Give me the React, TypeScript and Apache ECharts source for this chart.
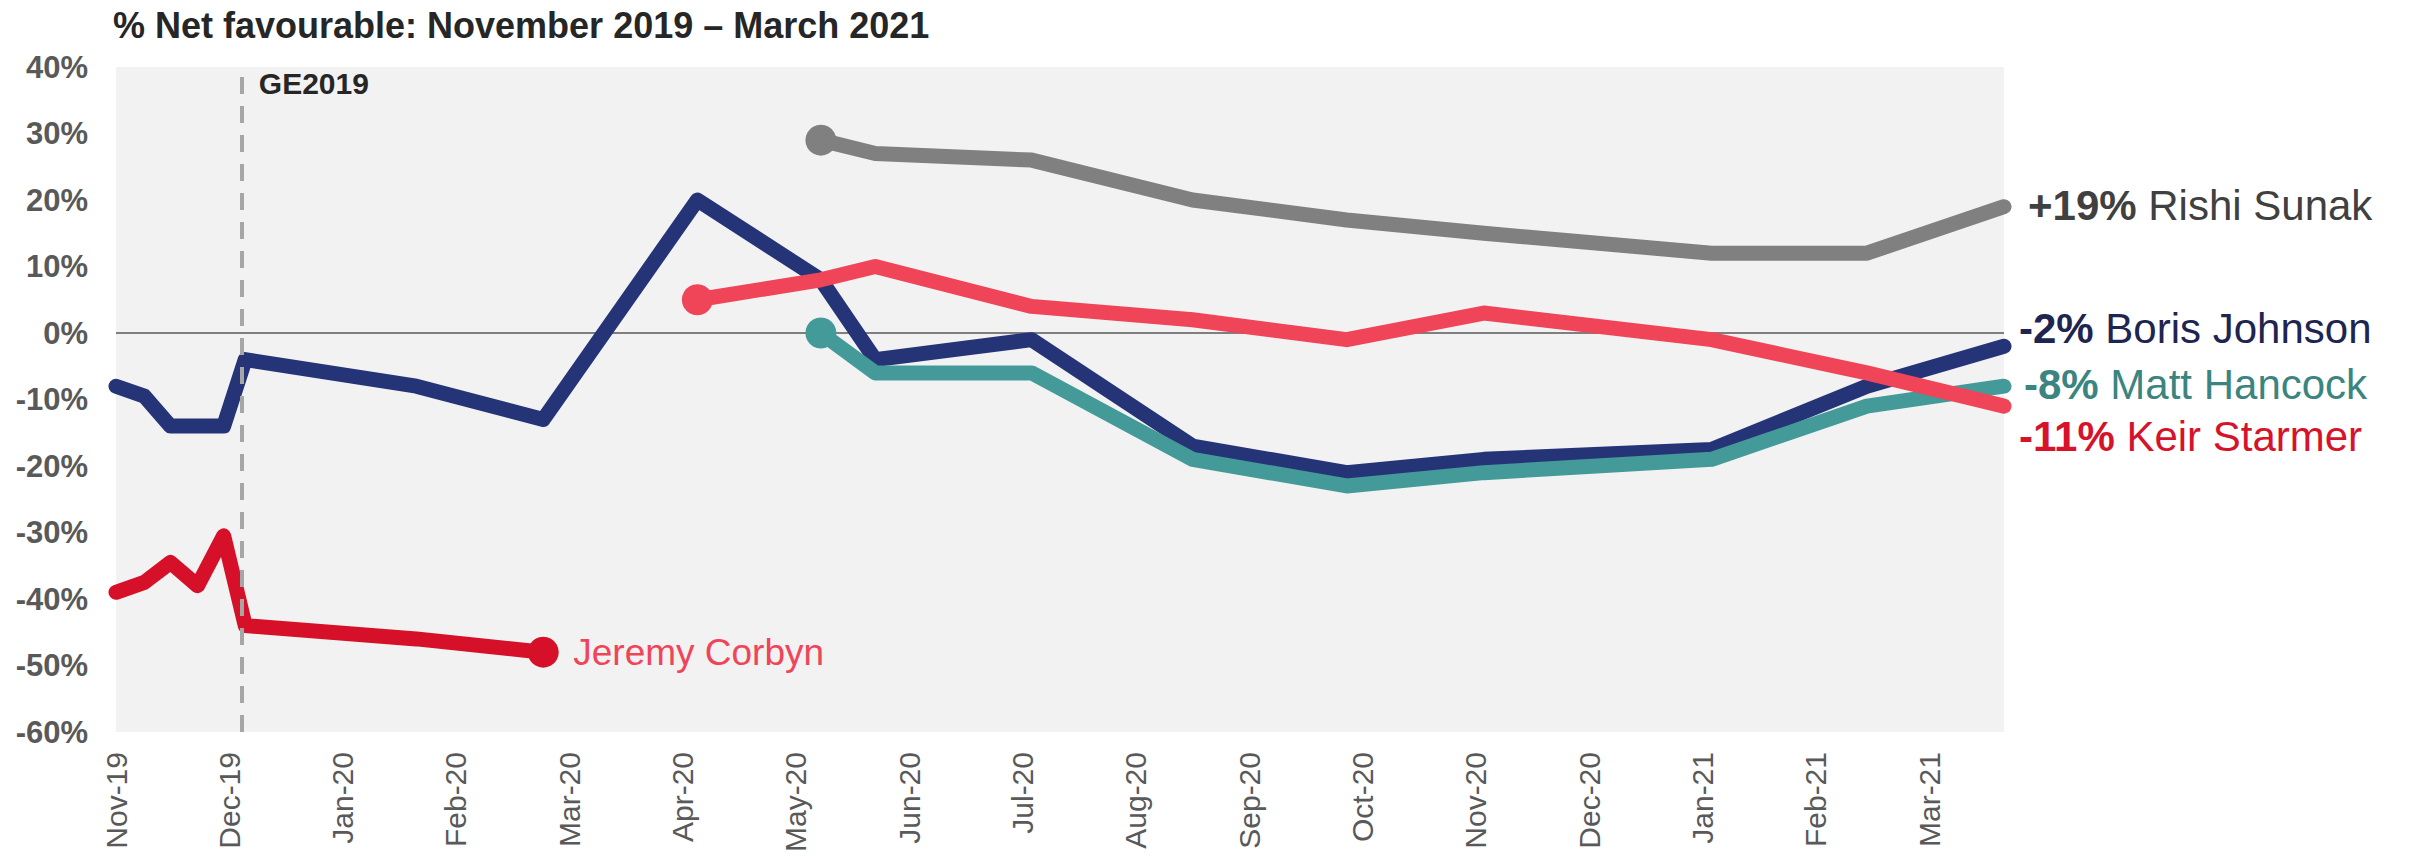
import React, { useEffect, useRef } from "react";
import * as echarts from "echarts";

const FONT = '"Liberation Sans", Arial, Helvetica, sans-serif';

// x-axis tick labels (month starts)
const monthLabels = [
  "Nov-19", "Dec-19", "Jan-20", "Feb-20", "Mar-20", "Apr-20", "May-20", "Jun-20",
  "Jul-20", "Aug-20", "Sep-20", "Oct-20", "Nov-20", "Dec-20", "Jan-21", "Feb-21", "Mar-21",
];

// poll positions, in months after the start of Nov-19
const pollMonths = [0, 0.25, 0.48, 0.72, 0.95, 1.14, 2.65, 3.77, 5.13, 6.22, 6.7, 8.08, 9.5, 10.86, 12.07, 14.08, 15.45, 16.66];

// % net favourable
const borisJohnson = [-8, -9.5, -14, -14, -14, -4, -8, -13, 20, 8, -4, -1, -17, -21, -19, -17.5, -8, -2];
const jeremyCorbyn = [-39, -37.5, -34.5, -38, -30.5, -44, -46, -48]; // polls 0..7
const keirStarmer = [5, 8, 10, 4, 2, -1, 3, -1, -6, -11]; // polls 8..17
const rishiSunak = [29, 27, 26, 20, 17, 15, 12, 12, 19]; // polls 9..17
const mattHancock = [0, -6, -6, -19, -23, -21, -19, -11, -8]; // polls 9..17

const GE2019_MONTH = 1.11;
const AXIS_END = 16.66;

const C_BORIS = "#253476";
const C_CORBYN = "#D7102A";
const C_STARMER = "#F04458";
const C_SUNAK = "#808080";
const C_HANCOCK = "#439A98";

function build(startIdx: number, values: number[], markerAt: "first" | "last" | "none") {
  return values.map((v, i) => {
    const pt = [pollMonths[startIdx + i], v];
    const isMarker =
      markerAt === "first" ? i === 0 : markerAt === "last" ? i === values.length - 1 : false;
    return isMarker ? { value: pt, symbol: "circle", symbolSize: 31 } : { value: pt };
  });
}

function lineSeries(name: string, color: string, data: any[], extra: any = {}) {
  return {
    name,
    type: "line",
    data,
    symbol: "none",
    showSymbol: true,
    color,
    itemStyle: { color },
    lineStyle: { color, width: 15, cap: "round", join: "round" },
    emphasis: { disabled: true },
    silent: true,
    ...extra,
  };
}

function rightLabel(value: string, name: string, color: string, distance: number, dy: number) {
  return {
    show: true,
    formatter: () => `{b|${value}\u00A0}{n|${name}}`,
    distance,
    offset: [0, dy],
    color,
    rich: {
      b: { fontSize: 42, fontWeight: "bold", color, fontFamily: FONT },
      n: { fontSize: 42, color, fontFamily: FONT },
    },
  };
}

export default function App() {
  const ref = useRef<HTMLDivElement>(null);

  useEffect(() => {
    if (!ref.current) return;
    const chart = echarts.init(ref.current, undefined, { renderer: "svg" });

    const option: any = {
      animation: false,
      backgroundColor: "#FFFFFF",
      title: {
        text: "% Net favourable: November 2019 – March 2021",
        left: 108,
        top: 2,
        textStyle: { fontSize: 36, fontWeight: "bold", color: "#262626", fontFamily: FONT },
      },
      grid: {
        left: 116,
        right: 406,
        top: 67,
        bottom: 124,
        show: true,
        backgroundColor: "#F2F2F2",
        borderWidth: 0,
        outerBoundsMode: "none",
        containLabel: false,
      },
      xAxis: {
        type: "value",
        min: 0,
        max: AXIS_END,
        interval: 1,
        axisLine: { show: false },
        axisTick: { show: false },
        splitLine: { show: false },
        axisLabel: {
          rotate: 90,
          margin: 20,
          fontSize: 30,
          color: "#595959",
          fontFamily: FONT,
          showMaxLabel: false,
          formatter: (v: number) => {
            const i = Math.round(v);
            return Math.abs(v - i) < 1e-6 && monthLabels[i] ? monthLabels[i] : "";
          },
        },
      },
      yAxis: {
        type: "value",
        min: -60,
        max: 40,
        interval: 10,
        axisLine: { show: false },
        axisTick: { show: false },
        splitLine: { show: false },
        axisLabel: {
          formatter: "{value}%",
          fontSize: 31,
          fontWeight: "bold",
          color: "#595959",
          margin: 28,
          fontFamily: FONT,
        },
      },
      series: [
        lineSeries("Boris Johnson", C_BORIS, build(0, borisJohnson, "none"), {
          endLabel: rightLabel("-2%", "Boris Johnson", "#1E2550", 15, -18),
          markLine: {
            silent: true,
            z: 1,
            symbol: ["none", "none"],
            label: { show: false },
            lineStyle: { color: "#7F7F7F", width: 2, type: "solid" },
            data: [{ yAxis: 0 }],
          },
        }),
        lineSeries("Jeremy Corbyn", C_CORBYN, build(0, jeremyCorbyn, "last"), {
          endLabel: {
            show: true,
            formatter: "Jeremy Corbyn",
            distance: 30,
            color: C_STARMER,
            fontSize: 37,
            fontFamily: FONT,
          },
          markLine: {
            silent: true,
            symbol: ["none", "none"],
            label: { show: false },
            lineStyle: { color: "#A6A6A6", width: 4, type: [17, 12] },
            data: [{ xAxis: GE2019_MONTH }],
          },
        }),
        lineSeries("Rishi Sunak", C_SUNAK, build(9, rishiSunak, "first"), {
          endLabel: rightLabel("+19%", "Rishi Sunak", "#404040", 24, -1),
        }),
        lineSeries("Matt Hancock", C_HANCOCK, build(9, mattHancock, "first"), {
          endLabel: rightLabel("-8%", "Matt Hancock", "#3A857F", 20, -2),
        }),
        lineSeries("Keir Starmer", C_STARMER, build(8, keirStarmer, "first"), {
          endLabel: rightLabel("-11%", "Keir Starmer", "#D6132A", 15, 30),
        }),
      ],
    };

    chart.setOption(option);

    const px = chart.convertToPixel({ xAxisIndex: 0 }, GE2019_MONTH) as number;
    const py = chart.convertToPixel({ yAxisIndex: 0 }, 37.5) as number;
    chart.setOption({
      graphic: [
        {
          type: "text",
          x: px + 17,
          y: py,
          silent: true,
          style: {
            text: "GE2019",
            fontSize: 30,
            fontWeight: "bold",
            fontFamily: FONT,
            fill: "#262626",
            align: "left",
            verticalAlign: "middle",
          },
        },
      ],
    });

    return () => chart.dispose();
  }, []);

  return (
    <div
      ref={ref}
      style={{ position: "absolute", left: 0, top: 0, width: 2410, height: 856 }}
    />
  );
}
